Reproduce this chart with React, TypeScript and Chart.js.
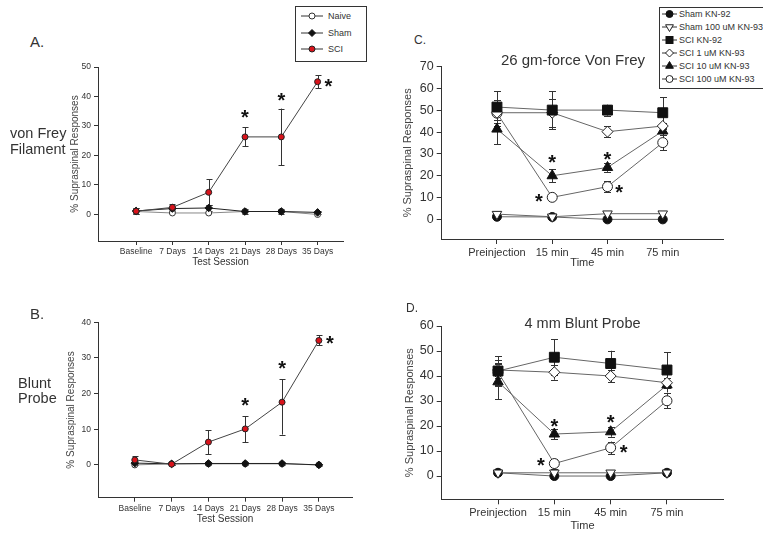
import React, { useEffect, useRef } from "react";
import { Chart, registerables } from "chart.js";

Chart.register(...registerables);

const FONT = '"Liberation Sans", Arial, Helvetica, sans-serif';

// ---------- Panels A & B : test sessions ----------
const sessionLabels = ["Baseline", "7 Days", "14 Days", "21 Days", "28 Days", "35 Days"];
const aTicks = [0, 10, 20, 30, 40, 50];
const bTicks = [0, 10, 20, 30, 40];

const aNaive = [1, 0.5, 0.5, 1, 1, 0];
const aSham = [1.2, 2, 2.2, 1, 1, 0.7];
const aShamErr = [1, 0.6, 0.9, 0.8, 0.8, 0.6];
const aSci = [1.1, 2.4, 7.5, 26.3, 26.3, 45];
const aSciErrHi = [1, 1.2, 4.4, 3.2, 9.6, 2.2];
const aSciErrLo = [1, 1.2, 4.4, 3.2, 9.6, 2.2];
const aStarX = [4, 5, 6.3];
const aStarY = [34, 39.7, 44.7];

const bNaive = [0, 0.3, 0.3, 0.3, 0.3, 0];
const bSham = [0.5, 0.3, 0.4, 0.4, 0.4, 0];
const bShamErr = [0.6, 0.3, 0.4, 0.4, 0.4, 0.3];
const bSci = [1.4, 0.2, 6.4, 10.1, 17.6, 34.9];
const bSciErrHi = [1, 0.3, 3.3, 3.6, 6.4, 1.4];
const bSciErrLo = [1, 0.3, 3.4, 3.7, 9.1, 1.3];
const bStarX = [4, 5, 6.3];
const bStarY = [17.6, 28, 35];

// ---------- Panels C & D : time after injection ----------
const timeLabels = ["Preinjection", "15 min", "45 min", "75 min"];
const cTicks = [0, 10, 20, 30, 40, 50, 60, 70];
const dTicks = [0, 10, 20, 30, 40, 50, 60];

const cShamKN92 = [1.2, 1.1, 0, 0];
const cSham100 = [2.4, 1.2, 2.6, 2.6];
const cSciKN92 = [51.5, 50.1, 50.1, 48.9];
const cSciKN92Err = [7.2, 8.7, 2.5, 7];
const cSci1 = [48.9, 48.9, 40.2, 42.8];
const cSci1Err = [6, 6.5, 2.5, 1.5];
const cSci10 = [41.4, 20, 23.8, 40.5];
const cSci10Err = [7, 3, 2, 2];
const cSci100 = [48.7, 10.1, 15, 35.2];
const cSci100Err = [3, 1, 2.5, 3.5];
const cStarX = [2, 1.76, 3, 3.21];
const cStarY = [27.5, 10, 29, 14];

const dShamKN92 = [1.3, 0, 0, 1.3];
const dSham100 = [1.3, 1.3, 1.3, 1.3];
const dSciKN92 = [42, 47.5, 45, 42.4];
const dSciKN92Err = [6, 7.2, 5.1, 7.1];
const dSci1 = [42.4, 41.5, 40, 37.3];
const dSci1Err = [3, 3, 2.5, 2];
const dSci10 = [37.7, 16.8, 17.7, 36.4];
const dSci10Err = [7, 2, 2, 3];
const dSci100 = [41.5, 5, 11.3, 30.1];
const dSci100Err = [5, 2, 2.5, 3];
const dStarX = [2, 1.76, 3, 3.23];
const dStarY = [21.2, 5.7, 23, 10.8];

type Series = {
  label: string;
  values: number[];
  errHi?: number[];
  errLo?: number[];
  style: string;
  radius: number;
  fill: string;
  border: string;
  rotation?: number;
  line: string;
};

type PanelSpec = {
  canvas: { left: number; top: number; w: number; h: number };
  area: { l: number; t: number; r: number; b: number };
  yTitleX: number;
  xTitleY: number;
  xMin: number;
  xMax: number;
  yMin: number;
  yMax: number;
  xLabels: string[];
  yTicks: number[];
  xFont: number;
  yFont: number;
  titleFont: number;
  xTitle: string;
  tickLen: number;
  series: Series[];
  starX: number[];
  starY: number[];
  starSize: number;
  capHalf: number;
};

const AXIS = "#333";

function makePlugins(p: PanelSpec) {
  const errorBars = {
    id: "errbars",
    beforeDatasetsDraw(chart: any) {
      const ctx = chart.ctx;
      const ys = chart.scales.y;
      ctx.save();
      ctx.strokeStyle = "#333";
      ctx.lineWidth = 1;
      p.series.forEach((s, i) => {
        if (!s.errHi) return;
        const meta = chart.getDatasetMeta(i);
        s.values.forEach((v, j) => {
          const pt = meta.data[j];
          if (!pt) return;
          const x = Math.round(pt.x) + 0.5;
          const yT = ys.getPixelForValue(v + s.errHi![j]);
          const yB = ys.getPixelForValue(v - (s.errLo ? s.errLo[j] : s.errHi![j]));
          ctx.beginPath();
          ctx.moveTo(x, yT);
          ctx.lineTo(x, yB);
          ctx.moveTo(x - p.capHalf, Math.round(yT) + 0.5);
          ctx.lineTo(x + p.capHalf, Math.round(yT) + 0.5);
          ctx.moveTo(x - p.capHalf, Math.round(yB) + 0.5);
          ctx.lineTo(x + p.capHalf, Math.round(yB) + 0.5);
          ctx.stroke();
        });
      });
      ctx.restore();
    },
  };
  const stars = {
    id: "stars",
    afterDatasetsDraw(chart: any) {
      const ctx = chart.ctx;
      const xs = chart.scales.x;
      const ys = chart.scales.y;
      ctx.save();
      ctx.fillStyle = "#111";
      ctx.font = `bold ${p.starSize}px ${FONT}`;
      ctx.textAlign = "center";
      ctx.textBaseline = "alphabetic";
      const m = ctx.measureText("*");
      const asc = m.actualBoundingBoxAscent;
      const desc = m.actualBoundingBoxDescent;
      p.starX.forEach((sx, k) => {
        const px = xs.getPixelForValue(sx);
        const py = ys.getPixelForValue(p.starY[k]);
        ctx.fillText("*", px, py + (asc - desc) / 2);
      });
      ctx.restore();
    },
  };
  return [errorBars, stars];
}

function buildConfig(p: PanelSpec): any {
  const off = (p.titleFont * 1.2) / 2;
  const padLeft = p.yTitleX - off - p.canvas.left;
  const yWidth = p.area.l - p.canvas.left - padLeft;
  const padTop = p.area.t - p.canvas.top;
  const padRight = p.canvas.left + p.canvas.w - p.area.r;
  const xBottom = p.xTitleY + off;
  const xHeight = xBottom - p.area.b;
  const padBottom = p.canvas.top + p.canvas.h - xBottom;

  return {
    type: "line",
    data: {
      datasets: p.series.map((s) => ({
        label: s.label,
        data: s.values.map((v, i) => ({ x: i + 1, y: v })),
        borderColor: s.line,
        borderWidth: 1,
        tension: 0,
        fill: false,
        pointStyle: s.style,
        pointRadius: s.radius,
        pointHoverRadius: s.radius,
        pointBackgroundColor: s.fill,
        pointBorderColor: s.border,
        pointBorderWidth: 1,
        pointRotation: s.rotation || 0,
        clip: false,
      })),
    },
    options: {
      animation: false,
      responsive: false,
      devicePixelRatio: 1,
      events: [],
      layout: { padding: { left: padLeft, top: padTop, right: padRight, bottom: padBottom } },
      plugins: { legend: { display: false }, tooltip: { enabled: false }, title: { display: false } },
      scales: {
        x: {
          type: "linear",
          min: p.xMin,
          max: p.xMax,
          afterBuildTicks: (s: any) => {
            s.ticks = p.xLabels.map((_, i) => ({ value: i + 1 }));
          },
          afterFit: (s: any) => {
            s.height = xHeight;
          },
          ticks: {
            callback: (_v: any, i: number) => p.xLabels[i],
            font: { family: FONT, size: p.xFont },
            color: AXIS,
            autoSkip: false,
            maxRotation: 0,
            padding: 2,
          },
          grid: { drawOnChartArea: false, drawTicks: true, tickLength: p.tickLen, color: AXIS },
          border: { display: true, color: AXIS, width: 1 },
          title: {
            display: true,
            text: p.xTitle,
            font: { family: FONT, size: p.titleFont },
            color: AXIS,
            padding: 0,
          },
        },
        y: {
          type: "linear",
          min: p.yMin,
          max: p.yMax,
          afterBuildTicks: (s: any) => {
            s.ticks = p.yTicks.map((v) => ({ value: v }));
          },
          afterFit: (s: any) => {
            s.width = yWidth;
          },
          ticks: {
            callback: (v: any) => String(v),
            font: { family: FONT, size: p.yFont },
            color: AXIS,
            padding: 3,
          },
          grid: { drawOnChartArea: false, drawTicks: true, tickLength: p.tickLen, color: AXIS },
          border: { display: true, color: AXIS, width: 1 },
          title: {
            display: true,
            text: "% Supraspinal Responses",
            font: { family: FONT, size: p.titleFont },
            color: "#444",
            padding: 0,
          },
        },
      },
    },
    plugins: makePlugins(p),
  };
}

function Panel({ spec }: { spec: PanelSpec }) {
  const ref = useRef<HTMLCanvasElement>(null);
  useEffect(() => {
    const chart = new Chart(ref.current as HTMLCanvasElement, buildConfig(spec));
    return () => chart.destroy();
  }, []);
  const c = spec.canvas;
  return (
    <canvas
      ref={ref}
      width={c.w}
      height={c.h}
      style={{ position: "absolute", left: c.left, top: c.top, width: c.w, height: c.h }}
    />
  );
}

const SCI_RED = "#d8131b";

function abSeries(sci: number[], hi: number[], lo: number[], sham: number[], shamErr: number[], naive: number[]): Series[] {
  return [
    { label: "SCI", values: sci, errHi: hi, errLo: lo, style: "circle", radius: 3, fill: SCI_RED, border: "#222", line: "#444" },
    { label: "Sham", values: sham, errHi: shamErr, style: "rectRot", radius: 3.8, fill: "#111", border: "#111", line: "#222" },
    { label: "Naive", values: naive, style: "circle", radius: 3, fill: "#fff", border: "#333", line: "#888" },
  ];
}

function cdSeries(
  shamKN92: number[], sham100: number[],
  sciKN92: number[], sciKN92Err: number[],
  sci1: number[], sci1Err: number[],
  sci10: number[], sci10Err: number[],
  sci100: number[], sci100Err: number[]
): Series[] {
  const L = "#666";
  return [
    { label: "SCI KN-92", values: sciKN92, errHi: sciKN92Err, style: "rect", radius: 7, fill: "#111", border: "#111", line: L },
    { label: "SCI 1 uM KN-93", values: sci1, errHi: sci1Err, style: "rectRot", radius: 5.5, fill: "#fff", border: "#222", line: L },
    { label: "SCI 10 uM KN-93", values: sci10, errHi: sci10Err, style: "triangle", radius: 6, fill: "#111", border: "#111", line: L },
    { label: "SCI 100 uM KN-93", values: sci100, errHi: sci100Err, style: "circle", radius: 5, fill: "#fff", border: "#222", line: L },
    { label: "Sham 100 uM KN-93", values: sham100, style: "triangle", rotation: 180, radius: 5.5, fill: "#fff", border: "#222", line: L },
    { label: "Sham KN-92", values: shamKN92, style: "circle", radius: 4.5, fill: "#111", border: "#111", line: L },
  ];
}

const panelA: PanelSpec = {
  canvas: { left: 40, top: 55, w: 340, h: 220 },
  area: { l: 98, t: 67, r: 343, b: 241 },
  yTitleX: 75,
  xTitleY: 262,
  xMin: -0.05,
  xMax: 6.7,
  yMin: -9,
  yMax: 50,
  xLabels: sessionLabels,
  yTicks: aTicks,
  xFont: 8.5,
  yFont: 8.5,
  titleFont: 10,
  xTitle: "Test Session",
  tickLen: 4,
  series: abSeries(aSci, aSciErrHi, aSciErrLo, aSham, aShamErr, aNaive),
  starX: aStarX,
  starY: aStarY,
  starSize: 20,
  capHalf: 3,
};

const panelB: PanelSpec = {
  canvas: { left: 40, top: 308, w: 340, h: 227 },
  area: { l: 98, t: 322.3, r: 352, b: 497.7 },
  yTitleX: 71,
  xTitleY: 519,
  xMin: 0,
  xMax: 6.9,
  yMin: -9.2,
  yMax: 40,
  xLabels: sessionLabels,
  yTicks: bTicks,
  xFont: 8.5,
  yFont: 8.5,
  titleFont: 10,
  xTitle: "Test Session",
  tickLen: 4,
  series: abSeries(bSci, bSciErrHi, bSciErrLo, bSham, bShamErr, bNaive),
  starX: bStarX,
  starY: bStarY,
  starSize: 20,
  capHalf: 3,
};

const panelC: PanelSpec = {
  canvas: { left: 380, top: 50, w: 383, h: 225 },
  area: { l: 441.7, t: 66.7, r: 723, b: 239 },
  yTitleX: 408,
  xTitleY: 263,
  xMin: 0,
  xMax: 5.09,
  yMin: -9,
  yMax: 70,
  xLabels: timeLabels,
  yTicks: cTicks,
  xFont: 11,
  yFont: 12.5,
  titleFont: 11,
  xTitle: "Time",
  tickLen: 5,
  series: cdSeries(cShamKN92, cSham100, cSciKN92, cSciKN92Err, cSci1, cSci1Err, cSci10, cSci10Err, cSci100, cSci100Err),
  starX: cStarX,
  starY: cStarY,
  starSize: 20,
  capHalf: 3.5,
};

const panelD: PanelSpec = {
  canvas: { left: 380, top: 300, w: 383, h: 235 },
  area: { l: 441.7, t: 326, r: 723.3, b: 499.3 },
  yTitleX: 410,
  xTitleY: 526,
  xMin: 0,
  xMax: 5,
  yMin: -9.3,
  yMax: 60,
  xLabels: timeLabels,
  yTicks: dTicks,
  xFont: 11,
  yFont: 12.5,
  titleFont: 11,
  xTitle: "Time",
  tickLen: 5,
  series: cdSeries(dShamKN92, dSham100, dSciKN92, dSciKN92Err, dSci1, dSci1Err, dSci10, dSci10Err, dSci100, dSci100Err),
  starX: dStarX,
  starY: dStarY,
  starSize: 20,
  capHalf: 3.5,
};

// ---------- text & legends ----------
function Label(props: { x: number; y: number; size: number; children: React.ReactNode; center?: boolean }) {
  return (
    <div
      style={{
        position: "absolute",
        left: props.x,
        top: props.y,
        transform: props.center ? "translate(-50%, -50%)" : "translateY(-50%)",
        fontFamily: FONT,
        fontSize: props.size,
        lineHeight: 1,
        color: "#333",
        whiteSpace: "nowrap",
      }}
    >
      {props.children}
    </div>
  );
}

function MarkerSvg(props: { kind: string; fill: string; stroke: string; w: number; r: number }) {
  const { kind, fill, stroke, w, r } = props;
  const h = 14;
  const cx = w / 2;
  const cy = h / 2;
  let shape: React.ReactNode = null;
  if (kind === "circle") shape = <circle cx={cx} cy={cy} r={r} fill={fill} stroke={stroke} strokeWidth={1} />;
  else if (kind === "square")
    shape = <rect x={cx - r} y={cy - r} width={2 * r} height={2 * r} fill={fill} stroke={stroke} strokeWidth={1} />;
  else if (kind === "diamond")
    shape = (
      <polygon
        points={`${cx},${cy - r} ${cx + r},${cy} ${cx},${cy + r} ${cx - r},${cy}`}
        fill={fill}
        stroke={stroke}
        strokeWidth={1}
      />
    );
  else if (kind === "tri")
    shape = (
      <polygon
        points={`${cx},${cy - r} ${cx + r * 0.87},${cy + r * 0.5} ${cx - r * 0.87},${cy + r * 0.5}`}
        fill={fill}
        stroke={stroke}
        strokeWidth={1}
      />
    );
  else if (kind === "triDown")
    shape = (
      <polygon
        points={`${cx},${cy + r} ${cx + r * 0.87},${cy - r * 0.5} ${cx - r * 0.87},${cy - r * 0.5}`}
        fill={fill}
        stroke={stroke}
        strokeWidth={1}
      />
    );
  return (
    <svg width={w} height={h} style={{ display: "block" }}>
      <line x1={0} y1={cy} x2={w} y2={cy} stroke="#333" strokeWidth={1} />
      {shape}
    </svg>
  );
}

const legendALabels = ["Naive", "Sham", "SCI"];
const legendAMarks = [
  { kind: "circle", fill: "#fff", stroke: "#333", r: 3 },
  { kind: "diamond", fill: "#111", stroke: "#111", r: 3.5 },
  { kind: "circle", fill: SCI_RED, stroke: "#222", r: 3 },
];
const legendCLabels = ["Sham KN-92", "Sham 100 uM KN-93", "SCI KN-92", "SCI 1 uM KN-93", "SCI 10 uM KN-93", "SCI 100 uM KN-93"];
const legendCMarks = [
  { kind: "circle", fill: "#111", stroke: "#111", r: 3.5 },
  { kind: "triDown", fill: "#fff", stroke: "#222", r: 4.5 },
  { kind: "square", fill: "#111", stroke: "#111", r: 3.5 },
  { kind: "diamond", fill: "#fff", stroke: "#222", r: 4 },
  { kind: "tri", fill: "#111", stroke: "#111", r: 4.5 },
  { kind: "circle", fill: "#fff", stroke: "#222", r: 3.5 },
];

function LegendA() {
  const rows = [15.7, 33, 49.3];
  return (
    <>
      <div style={{ position: "absolute", left: 295, top: 6, width: 70, height: 54, border: "1px solid #333", background: "#fff" }} />
      {legendALabels.map((t, i) => (
        <React.Fragment key={t}>
          <div style={{ position: "absolute", left: 301, top: rows[i] - 7 }}>
            <MarkerSvg kind={legendAMarks[i].kind} fill={legendAMarks[i].fill} stroke={legendAMarks[i].stroke} w={22} r={legendAMarks[i].r} />
          </div>
          <Label x={328} y={rows[i]} size={9}>
            {t}
          </Label>
        </React.Fragment>
      ))}
    </>
  );
}

function LegendC() {
  const top = 7;
  const step = 13;
  return (
    <>
      <div style={{ position: "absolute", left: 659, top: top, width: 140, height: 80, border: "1px solid #333", background: "#fff" }} />
      {legendCLabels.map((t, i) => (
        <React.Fragment key={t}>
          <div style={{ position: "absolute", left: 662, top: top + 7 + i * step - 7 }}>
            <MarkerSvg kind={legendCMarks[i].kind} fill={legendCMarks[i].fill} stroke={legendCMarks[i].stroke} w={15} r={legendCMarks[i].r} />
          </div>
          <Label x={679} y={top + 7 + i * step} size={9}>
            {t}
          </Label>
        </React.Fragment>
      ))}
    </>
  );
}

export default function App() {
  return (
    <div
      style={{
        position: "absolute",
        left: 0,
        top: 0,
        width: 763,
        height: 535,
        overflow: "hidden",
        background: "#fff",
      }}
    >
      <Panel spec={panelA} />
      <Panel spec={panelB} />
      <Panel spec={panelC} />
      <Panel spec={panelD} />

      <Label x={30} y={41} size={15}>A.</Label>
      <Label x={10} y={133} size={14.5}>von Frey</Label>
      <Label x={10} y={149} size={14.5}>Filament</Label>

      <Label x={30} y={313} size={15}>B.</Label>
      <Label x={18} y={383} size={14.5}>Blunt</Label>
      <Label x={18} y={398} size={14.5}>Probe</Label>

      <Label x={414} y={40} size={12}>C.</Label>
      <Label x={573} y={59} size={15} center>26 gm-force Von Frey</Label>

      <Label x={406} y={308} size={12}>D.</Label>
      <Label x={582.5} y={323} size={14.5} center>4 mm Blunt Probe</Label>

      <LegendA />
      <LegendC />
    </div>
  );
}
